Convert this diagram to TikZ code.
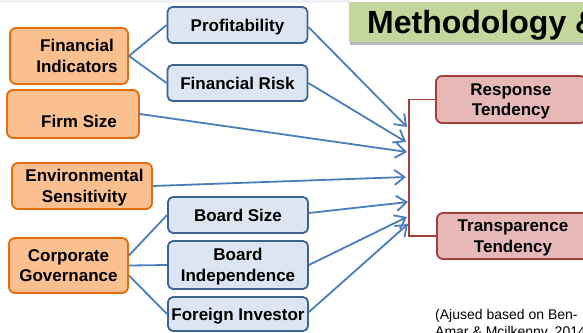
\documentclass[tikz,border=0pt]{standalone}
\usepackage{fontspec}
\setmainfont{Liberation Sans}
\usetikzlibrary{arrows.meta,shadows,calc}
\definecolor{ofill}{HTML}{FAC090}
\definecolor{odraw}{HTML}{E46C0A}
\definecolor{bfill}{HTML}{DCE6F2}
\definecolor{bdraw}{HTML}{3E6393}
\definecolor{rfill}{HTML}{E6B9B8}
\definecolor{rdraw}{HTML}{A13F3D}
\definecolor{gfill}{HTML}{C3D69B}
\definecolor{lblue}{HTML}{4A7EBB}
\definecolor{topstrip}{HTML}{EEF2F6}
\tikzset{
  boxtext/.style={font=\fontsize{17}{20.5}\selectfont\bfseries, align=center, text=black, text depth=0pt},
  obox/.style={boxtext, draw=odraw, fill=ofill, line width=1.8pt, rounded corners=6pt, inner sep=1pt},
  bbox/.style={boxtext, draw=bdraw, fill=bfill, line width=1.8pt, rounded corners=5pt, inner sep=1pt, minimum width=140pt},
  rbox/.style={boxtext, draw=rdraw, fill=rfill, line width=1.8pt, rounded corners=6pt, inner sep=1pt},
  plain/.style={boxtext, inner sep=0pt},
  link/.style={draw=lblue, line width=1.8pt},
  arr/.style={link, -{Straight Barb[length=10pt,width=15pt,line width=1.8pt]}},
  brk/.style={draw=rdraw, line width=1.8pt},
  note/.style={font=\fontsize{14}{16}\selectfont, anchor=base west, inner sep=0pt}
}
\begin{document}
\begin{tikzpicture}[x=1pt,y=-1pt]
\useasboundingbox (0,0) rectangle (583,332);
\clip (0,0) rectangle (583,332);
\fill[white] (0,0) rectangle (583,332);
\fill[topstrip] (0,0) rectangle (350,3);
% title
\node[fill=gfill, minimum width=260pt, minimum height=40pt, anchor=north west, inner sep=0pt,
      drop shadow={shadow xshift=1pt, shadow yshift=-3pt, opacity=0.45, fill=black!60}] (titlebox) at (349,2) {};
\node[font=\fontsize{32}{36}\selectfont\bfseries, anchor=base west, inner sep=0pt] (title) at (367,33) {Methodology \&};
% orange boxes
\node[obox, minimum width=118pt, minimum height=56pt] (fi) at (69,56) {\hspace*{16pt}Financial\\\hspace*{16pt}Indicators};
\node[obox, minimum width=132pt, minimum height=48pt] (fs) at (73,114) {};
\node[plain] (fst) at (79,121) {Firm Size};
\node[obox, minimum width=140pt, minimum height=46pt] (es) at (82,186) {\hspace*{5pt}Environmental\\\hspace*{5pt}Sensitivity};
\node[obox, minimum width=119pt, minimum height=55pt] (cg) at (68.5,265.5) {Corporate\\Governance};
% blue boxes
\node[bbox, minimum height=36pt] (pr) at (237.5,25) {Profitability};
\node[bbox, minimum height=36pt] (fr) at (237.5,83) {Financial Risk};
\node[bbox, minimum height=36pt] (bs) at (238,215) {Board Size};
\node[bbox, minimum height=48pt] (bi) at (238,265) {Board\\Independence};
\node[bbox, minimum height=34pt] (fo) at (238,314) {Foreign Investor};
% red boxes
\node[rbox, minimum width=150pt, minimum height=47pt] (rt) at (511,99.5) {Response\\Tendency};
\node[rbox, minimum width=152pt, minimum height=46pt] (tt) at (513,236) {Transparence\\Tendency};
% bracket
\draw[brk] (rt.west) -- ++(-26,0) |- (tt.west);
% arrow targets
\coordinate (t1) at (407,127);
\coordinate (t2) at (406,142);
\coordinate (t3) at (407,152);
\coordinate (t4) at (406,177);
\coordinate (t5) at (408,202);
\coordinate (t6) at (407,217);
\coordinate (t7) at (408,224);
% links
\draw[link] (fi.east) -- (pr.west);
\draw[link] (fi.east) -- (fr.west);
\draw[link] ($(cg.east)+(0,-10)$) -- (bs.west);
\draw[link] (cg.east) -- (bi.west);
\draw[link] ($(cg.east)+(0,10)$) -- (fo.west);
% arrows
\draw[arr] ($(pr.east)+(0,2)$) -- (t1);
\draw[arr] (fr.east) -- (t2);
\draw[arr] (fs.east) -- (t3);
\draw[arr] (es.east) -- (t4);
\draw[arr] ($(bs.east)+(0,-2)$) -- (t5);
\draw[arr] (bi.east) -- (t6);
\draw[arr] ($(fo.east)+(0,-2)$) -- (t7);
% note
\node[note] (n1) at (435,319) {(Ajused based on Ben-};
\node[note] (n2) at (435,336) {Amar \& Mcilkenny, 2014)};
\end{tikzpicture}
\end{document}
